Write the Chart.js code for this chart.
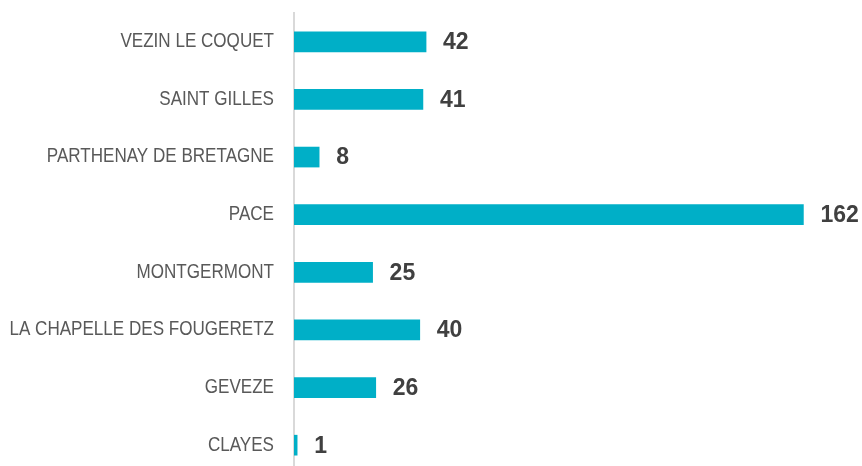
<!DOCTYPE html>
<html>
<head>
<meta charset="utf-8">
<script src="https://cdn.jsdelivr.net/npm/chart.js@4/dist/chart.umd.min.js"></script>
<style>
html,body{margin:0;padding:0;background:#fff;overflow:hidden;}
canvas{display:block;}
</style>
</head>
<body>
<canvas id="c" width="862" height="474" style="width:862px;height:474px"></canvas>
<script>
const categories = ["VEZIN LE COQUET","SAINT GILLES","PARTHENAY DE BRETAGNE","PACE","MONTGERMONT","LA CHAPELLE DES FOUGERETZ","GEVEZE","CLAYES"];
const values = [42,41,8,162,25,40,26,1];

const valueLabels = {
  id:'valueLabels',
  afterDatasetsDraw(chart){
    const ctx = chart.ctx;
    const meta = chart.getDatasetMeta(0);
    ctx.save();
    ctx.font = 'bold 23px "Liberation Sans", Arial, sans-serif';
    ctx.fillStyle = '#404040';
    ctx.textAlign = 'left';
    ctx.textBaseline = 'middle';
    meta.data.forEach((bar,i)=>{
      ctx.fillText(String(values[i]), bar.x + 17, bar.y + 1);
    });
    ctx.restore();
  }
};

// Condense the category labels horizontally (narrow font look), anchored at their right edge
const narrowTicks = {
  id:'narrowTicks',
  beforeDraw(chart){
    const s = chart.scales.y;
    if (!s || s._narrowPatched) return;
    const orig = s.drawLabels;
    s._computeLabelArea = function(){ return undefined; };
    s.drawLabels = function(area){
      const ctx = this.ctx;
      const ax = this.right - 20;
      ctx.save();
      ctx.translate(ax, 0);
      ctx.scale(0.875, 1);
      ctx.translate(-ax, 0);
      orig.call(this, area);
      ctx.restore();
    };
    s._narrowPatched = true;
  }
};

new Chart(document.getElementById('c'), {
  type:'bar',
  data:{
    labels:categories,
    datasets:[{data:values, backgroundColor:'#00AFC7', borderWidth:0, barThickness:20}]
  },
  options:{
    indexAxis:'y',
    responsive:false,
    animation:false,
    layout:{padding:{top:13,right:2,bottom:0,left:0}},
    plugins:{legend:{display:false},tooltip:{enabled:false}},
    scales:{
      x:{min:0,max:180,display:false},
      y:{
        grid:{display:false,drawTicks:false},
        border:{display:true,color:'#D9D9D9',width:2},
        ticks:{color:'#595959',padding:20,font:{family:'"Liberation Sans", Arial, sans-serif',size:19.5}},
        afterFit(scale){ scale.width = 294; scale.paddingTop = 0; scale.paddingBottom = 0; }
      }
    }
  },
  plugins:[valueLabels, narrowTicks]
});
</script>
</body>
</html>
